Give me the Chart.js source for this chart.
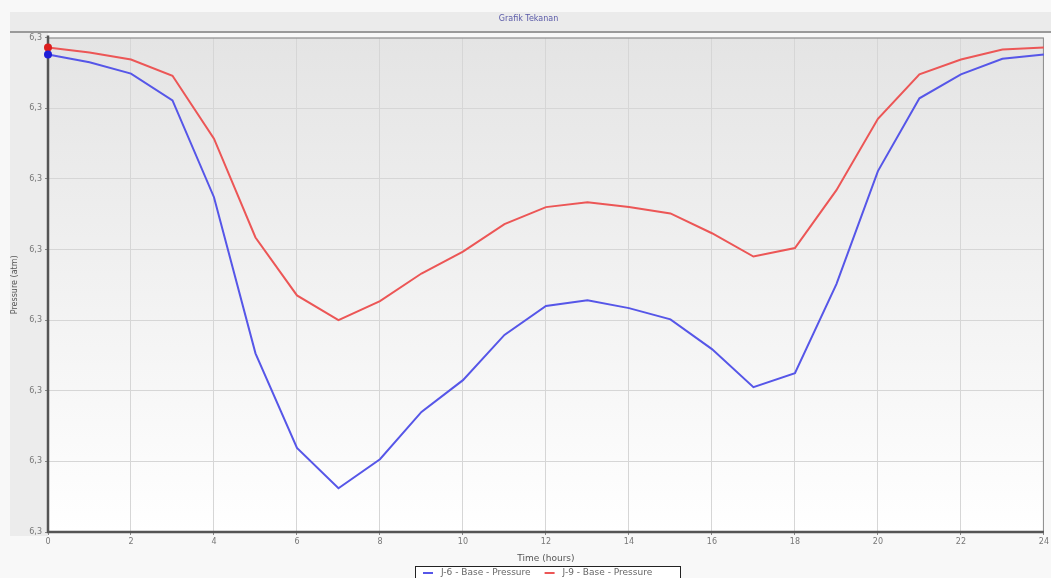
<!DOCTYPE html>
<html>
<head>
<meta charset="utf-8">
<style>
  html, body { margin: 0; padding: 0; background: #f7f7f7; }
  #wrap { width: 1051px; height: 578px; }
</style>
</head>
<body>
<div id="wrap"><canvas id="pressureGraph" width="1051" height="578"></canvas></div>
<script src="https://cdn.jsdelivr.net/npm/chart.js"></script>
<script>
  // hours 0..24
  var hours = [0, 1, 2, 3, 4, 5, 6, 7, 8, 9, 10, 11, 12, 13, 14, 15, 16, 17, 18, 19, 20, 21, 22, 23, 24];
  var j6Pressure = [6.3276, 6.3265, 6.3249, 6.3211, 6.3074, 6.2853, 6.2719, 6.2662, 6.2703, 6.2770, 6.2815, 6.2879, 6.2920,
                    6.2928, 6.2917, 6.2901, 6.2859, 6.2805, 6.2825, 6.2951, 6.3111, 6.3214, 6.3248, 6.3270, 6.3276];
  var j9Pressure = [6.3286, 6.3279, 6.3269, 6.3246, 6.3157, 6.3017, 6.2935, 6.2900, 6.2927, 6.2966, 6.2997, 6.3036, 6.3060,
                    6.3067, 6.3060, 6.3051, 6.3023, 6.2990, 6.3002, 6.3084, 6.3185, 6.3248, 6.3269, 6.3283, 6.3286];
  var seriesLabels = ['J-6 - Base - Pressure', 'J-9 - Base - Pressure'];
  var chartTitle = 'Grafik Tekanan';
  var xTitle = 'Time (hours)';
  var yTitle = 'Pressure (atm)';

  function toPoints(values) {
    var pts = [];
    for (var i = 0; i < hours.length; i++) {
      pts.push({x: hours[i], y: values[i]});
    }
    return pts;
  }

  // only the first point gets a dot, like the original
  function firstDot(ctx) {
    return ctx.dataIndex === 0 ? 4 : 0;
  }

  var panelBackground = {
    id: 'panelBackground',
    beforeDraw: function(chart) {
      var c = chart.ctx, a = chart.chartArea;
      c.save();
      c.fillStyle = '#f8f8f8';
      c.fillRect(0, 0, chart.width, chart.height);
      // title strip
      c.fillStyle = '#ebebeb';
      c.fillRect(10, 12, chart.width - 10, 19);
      c.fillStyle = '#9a9a9a';
      c.fillRect(10, 31, chart.width - 10, 2);
      // left axis band
      c.fillStyle = '#ececec';
      c.fillRect(10, 33, a.left - 10, a.bottom - 33 + 4);
      // plot gradient
      var g = c.createLinearGradient(0, a.top, 0, a.bottom);
      g.addColorStop(0, '#e4e4e4');
      g.addColorStop(1, '#ffffff');
      c.fillStyle = g;
      c.fillRect(a.left, a.top, a.right - a.left, a.bottom - a.top);
      c.restore();
    },
    beforeDatasetsDraw: function(chart) {
      var c = chart.ctx, a = chart.chartArea;
      c.save();
      // frame (drawn under the lines)
      c.strokeStyle = '#8c8c8c';
      c.lineWidth = 1;
      c.strokeRect(a.left + 0.5, a.top + 0.5, a.right - a.left - 1, a.bottom - a.top - 1);
      c.strokeStyle = '#555555';
      c.lineWidth = 2.5;
      c.beginPath();
      c.moveTo(a.left, a.top - 2);
      c.lineTo(a.left, a.bottom);
      c.lineTo(a.right, a.bottom);
      c.stroke();
      c.restore();
    },
    afterDraw: function(chart) {
      var c = chart.ctx;
      c.save();
      // legend box
      c.font = '9px "DejaVu Sans"';
      c.textBaseline = 'middle';
      var x = 415, y = 566, w = 265, h = 13;
      c.fillStyle = '#ffffff';
      c.fillRect(x, y, w, h);
      c.strokeStyle = '#222222';
      c.lineWidth = 1;
      c.strokeRect(x + 0.5, y + 0.5, w, h);
      var cx = x + 8;
      chart.data.datasets.forEach(function(ds) {
        c.strokeStyle = ds.borderColor;
        c.lineWidth = 2;
        c.beginPath();
        c.moveTo(cx, y + 7);
        c.lineTo(cx + 10, y + 7);
        c.stroke();
        c.fillStyle = '#666666';
        c.fillText(ds.label, cx + 18, y + 7);
        cx += 18 + c.measureText(ds.label).width + 14;
      });
      c.restore();
    }
  };

  var ctx = document.getElementById('pressureGraph').getContext('2d');
  var chart = new Chart(ctx, {
    type: 'line',
    data: {
      datasets: [{
        label: seriesLabels[0],
        data: toPoints(j6Pressure),
        borderColor: 'rgb(86, 86, 232)',
        backgroundColor: 'rgb(30, 30, 215)',
        borderWidth: 2,
        pointRadius: firstDot,
        pointBorderWidth: 0,
        clip: false,
        tension: 0
      }, {
        label: seriesLabels[1],
        data: toPoints(j9Pressure),
        borderColor: 'rgb(236, 86, 86)',
        backgroundColor: 'rgb(220, 30, 30)',
        borderWidth: 2,
        pointRadius: firstDot,
        pointBorderWidth: 0,
        clip: false,
        tension: 0
      }]
    },
    options: {
      responsive: false,
      animation: false,
      layout: { padding: { top: 2, right: 4, left: 10, bottom: 14 } },
      plugins: {
        legend: { display: false },
        tooltip: { enabled: false },
        title: {
          display: true,
          text: chartTitle,
          color: '#5a5aa8',
          font: { family: 'DejaVu Sans', size: 8, weight: 'normal' },
          padding: { top: 12, bottom: 14 }
        }
      },
      scales: {
        x: {
          type: 'linear',
          min: 0,
          max: 24,
          ticks: { stepSize: 2, color: '#777777', font: { family: 'DejaVu Sans', size: 8 }, padding: 2, maxRotation: 0 },
          grid: { color: '#d6d6d6', tickLength: 3, tickColor: '#888888' },
          border: { display: false },
          title: { display: true, text: xTitle, color: '#555555', font: { family: 'DejaVu Sans', size: 9 }, padding: { top: 2, bottom: 0 } },
          afterFit: function(scale) { scale.height = 32; }
        },
        y: {
          min: 6.26,
          max: 6.33,
          ticks: {
            stepSize: 0.01,
            color: '#777777',
            font: { family: 'DejaVu Sans', size: 8 },
            padding: 3,
            callback: function(v) { return v.toFixed(1).replace('.', ','); }
          },
          grid: { color: '#d6d6d6', tickLength: 3, tickColor: '#888888' },
          border: { display: false },
          title: { display: true, text: yTitle, color: '#555555', font: { family: 'DejaVu Sans', size: 8 }, padding: 0 },
          afterFit: function(scale) { scale.width = 38; }
        }
      }
    },
    plugins: [panelBackground]
  });
</script>
</body>
</html>
